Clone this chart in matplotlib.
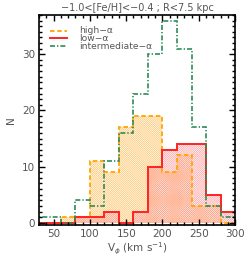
import matplotlib
matplotlib.use("Agg")
import matplotlib.pyplot as plt
import numpy as np
from matplotlib.ticker import MultipleLocator

# Data
edges = [20, 40, 60, 80, 100, 120, 140, 160, 180, 200, 220, 240, 260, 280, 300]
high_alpha = [0, 0, 1, 1, 11, 9, 17, 19, 19, 9, 12, 3, 3, 0]
low_alpha = [0, 0, 0, 1, 1, 2, 0, 2, 10, 13, 14, 14, 5, 2]
inter_alpha = [1, 1, 0, 4, 3, 11, 16, 23, 30, 36, 31, 17, 3, 1]
labels = ['high\u2212\u03b1', 'low\u2212\u03b1', 'intermediate\u2212\u03b1']
xticks = [50, 100, 150, 200, 250, 300]
yticks = [0, 10, 20, 30]
title = "\u22121.0<[Fe/H]<\u22120.4 ; R<7.5 kpc"

plt.rcParams['font.family'] = ['DejaVu Sans']
plt.rcParams['hatch.linewidth'] = 0.5
txtc = '#555555'

fig = plt.figure(figsize=(2.49, 2.66), dpi=100)
ax = fig.add_axes([0.157, 0.154, 0.787, 0.79])

e = np.array(edges)
c_or = '#ffa500'
c_red = '#ff2222'
c_gr = '#2e8b57'
styles = [dict(color=c_or, linestyle=(0, (2.5, 1.5)), linewidth=1.3),
          dict(color=c_red, linestyle='-', linewidth=1.4),
          dict(color=c_gr, linestyle=(0, (3, 1.2, 0.8, 1.2)), linewidth=1.2)]

ax.stairs(high_alpha, e, baseline=0, fill=True, facecolor='none',
          edgecolor='#ffc060', hatch='\\' * 16, linewidth=0)
ax.stairs(low_alpha, e, baseline=0, fill=True, facecolor='none',
          edgecolor='#ff9a9a', hatch='/' * 16, linewidth=0)

for vals, st in zip([high_alpha, low_alpha, inter_alpha], styles):
    ax.stairs(vals, e, baseline=None, **st)

ax.set_xlim(30, 300)
ax.set_ylim(-0.4, 37)
ax.set_xticks(xticks)
ax.set_yticks(yticks)
ax.xaxis.set_minor_locator(MultipleLocator(10))
ax.yaxis.set_minor_locator(MultipleLocator(1))
ax.tick_params(which='both', direction='in', top=True, right=True, colors='black',
               labelcolor=txtc, labelsize=7.5, width=1)
ax.tick_params(which='major', length=4, pad=3)
ax.tick_params(which='minor', length=2)
for s in ax.spines.values():
    s.set_linewidth(1.2)

ax.set_title(title, fontsize=7, color=txtc, pad=3)
ax.set_xlabel('V$_\\phi$ (km s$^{-1}$)', fontsize=7.5, color=txtc, labelpad=1)
ax.set_ylabel('N', fontsize=7.5, color=txtc, labelpad=4)

# manual legend
ys = [0.925, 0.889, 0.851]
for lab, st, yy in zip(labels, styles, ys):
    ax.plot([0.056, 0.143], [yy, yy], transform=ax.transAxes, **st)
    ax.text(0.205, yy, lab, transform=ax.transAxes, fontsize=6.6, color=txtc,
            va='center', ha='left')

fig.savefig('out.png', dpi=100)
